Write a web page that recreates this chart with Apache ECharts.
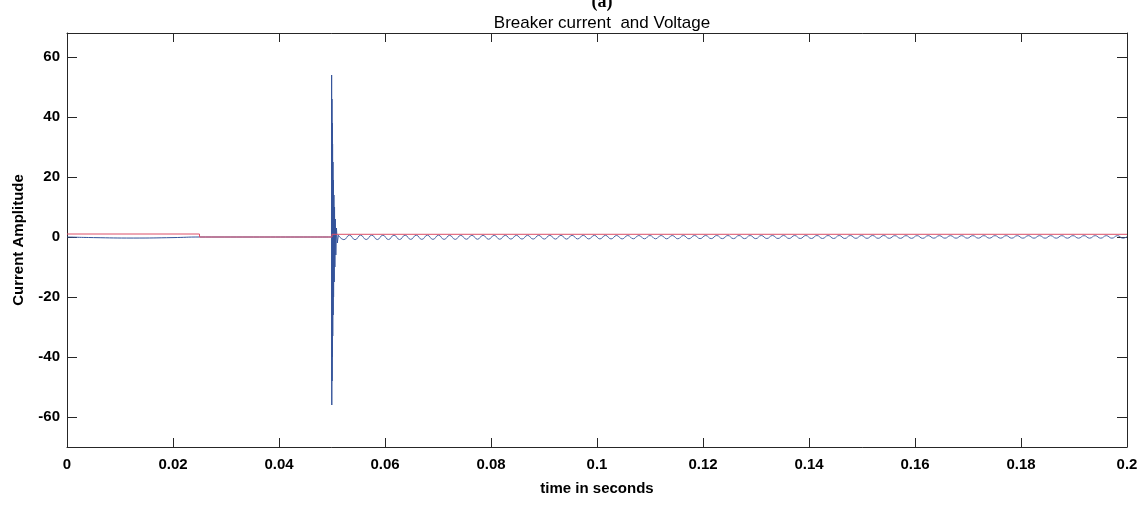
<!DOCTYPE html>
<html>
<head>
<meta charset="utf-8">
<script src="https://cdn.jsdelivr.net/npm/echarts@6/dist/echarts.min.js"></script>
<style>html,body{margin:0;padding:0;background:#fff}#c{width:1147px;height:505px}</style>
</head>
<body>
<div id="c"></div>
<script>
// ---- data ----
const xTicks = [0, 0.02, 0.04, 0.06, 0.08, 0.1, 0.12, 0.14, 0.16, 0.18, 0.2];
const yTicks = [-60, -40, -20, 0, 20, 40, 60];

// breaker state / voltage trace (red)
const redTimes  = [0, 0.025, 0.025, 0.05, 0.05, 0.2];
const redValues = [1, 1, 0, 0, 0.9, 0.9];

// current before the fault (blue)
const preTimes  = [0, 0.005, 0.0125, 0.02, 0.025, 0.0499];
const preValues = [0, -0.2, -0.35, -0.2, 0, 0];

// transient spike at 0.05 s (blue)
const spikeTimes  = [0.04990, 0.04993, 0.04996, 0.04999, 0.05002, 0.05005, 0.05008, 0.05011, 0.05014, 0.05018,
                     0.05022, 0.05026, 0.05030, 0.05036, 0.05042, 0.05048, 0.05054, 0.05062, 0.05072, 0.05084,
                     0.05100, 0.05120];
const spikeValues = [0, 54, -56, 46, -48, 38, -40, 31, -33, 25,
                     -26, 19, -20, 14, -15, 10, -10, 6, -6, 3,
                     -2, 0.6];

// steady oscillation after the fault (blue): peaks and troughs
const waveTimes = [
0.05120,0.05225,0.05330,0.05435,0.05540,0.05645,0.05750,0.05855,0.05960,0.06065,
0.06170,0.06275,0.06380,0.06485,0.06590,0.06695,0.06800,0.06905,0.07010,0.07115,
0.07220,0.07325,0.07430,0.07535,0.07640,0.07745,0.07850,0.07955,0.08060,0.08165,
0.08270,0.08375,0.08480,0.08585,0.08690,0.08795,0.08900,0.09005,0.09110,0.09215,
0.09320,0.09425,0.09530,0.09635,0.09740,0.09845,0.09950,0.10055,0.10160,0.10265,
0.10370,0.10475,0.10580,0.10685,0.10790,0.10895,0.11000,0.11105,0.11210,0.11315,
0.11420,0.11525,0.11630,0.11735,0.11840,0.11945,0.12050,0.12155,0.12260,0.12365,
0.12470,0.12575,0.12680,0.12785,0.12890,0.12995,0.13100,0.13205,0.13310,0.13415,
0.13520,0.13625,0.13730,0.13835,0.13940,0.14045,0.14150,0.14255,0.14360,0.14465,
0.14570,0.14675,0.14780,0.14885,0.14990,0.15095,0.15200,0.15305,0.15410,0.15515,
0.15620,0.15725,0.15830,0.15935,0.16040,0.16145,0.16250,0.16355,0.16460,0.16565,
0.16670,0.16775,0.16880,0.16985,0.17090,0.17195,0.17300,0.17405,0.17510,0.17615,
0.17720,0.17825,0.17930,0.18035,0.18140,0.18245,0.18350,0.18455,0.18560,0.18665,
0.18770,0.18875,0.18980,0.19085,0.19190,0.19295,0.19400,0.19505,0.19610,0.19715,
0.19820,0.19925,0.20000];
const waveValues = [
0.6,-0.9,0.6,-0.9,0.6,-0.85,0.6,-0.85,0.6,-0.85,
0.6,-0.85,0.6,-0.8,0.6,-0.8,0.6,-0.8,0.6,-0.8,
0.55,-0.8,0.55,-0.75,0.55,-0.75,0.55,-0.75,0.55,-0.75,
0.55,-0.7,0.55,-0.7,0.55,-0.7,0.55,-0.7,0.55,-0.7,
0.55,-0.7,0.55,-0.65,0.55,-0.65,0.55,-0.65,0.55,-0.65,
0.5,-0.65,0.5,-0.6,0.5,-0.6,0.5,-0.6,0.5,-0.6,
0.5,-0.6,0.5,-0.6,0.5,-0.55,0.5,-0.55,0.5,-0.55,
0.5,-0.55,0.5,-0.55,0.5,-0.55,0.5,-0.5,0.5,-0.5,
0.5,-0.5,0.5,-0.5,0.5,-0.5,0.5,-0.5,0.5,-0.5,
0.5,-0.5,0.5,-0.45,0.5,-0.45,0.5,-0.45,0.5,-0.45,
0.45,-0.45,0.45,-0.45,0.45,-0.45,0.45,-0.4,0.45,-0.4,
0.45,-0.4,0.45,-0.4,0.45,-0.4,0.45,-0.4,0.45,-0.4,
0.45,-0.4,0.45,-0.4,0.45,-0.4,0.45,-0.4,0.45,-0.4,
0.45,-0.4,0.45,-0.4,0.45,-0.4,0.45,-0.4,0.45,-0.4,
0.45,-0.4,0.1];

const titleText = 'Breaker current  and Voltage';
const panelText = '(a)';
const xName = 'time in seconds';
const yName = 'Current Amplitude';

// ---- chart ----
const zip = (t, v) => t.map((x, i) => [x, v[i]]);
const AX = '#262626';
const BLUE = '#34539a';
const RED = '#dc4f68';
const labelFont = {fontFamily: 'Liberation Sans, Arial, sans-serif', fontWeight: 'bold', fontSize: 15, color: '#000'};

const chart = echarts.init(document.getElementById('c'), null, {renderer: 'canvas'});
const fmtX = v => String(parseFloat(v.toFixed(3)));

chart.setOption({
  animation: false,
  backgroundColor: '#fff',
  title: [
    {text: panelText, left: 597, textAlign: 'center', top: -12,
     textStyle: {fontFamily: 'Liberation Serif, Times New Roman, serif', fontWeight: 'bold', fontSize: 18, color: '#000'}},
    {text: titleText, left: 597, textAlign: 'center', top: 10,
     textStyle: {fontFamily: 'Liberation Sans, Arial, sans-serif', fontWeight: 'normal', fontSize: 17, color: '#000'}}
  ],
  grid: {left: 67, right: 20, top: 33, bottom: 58, containLabel: false},
  xAxis: [
    {type: 'value', min: 0, max: 0.2, interval: 0.02, position: 'bottom',
     name: xName, nameLocation: 'middle', nameGap: 34,
     nameTextStyle: Object.assign({}, labelFont, {fontSize: 15}),
     axisLine: {show: true, onZero: false, lineStyle: {color: AX, width: 1}},
     axisTick: {show: true, inside: true, length: 9, lineStyle: {color: AX}},
     axisLabel: Object.assign({margin: 10, formatter: fmtX}, labelFont),
     splitLine: {show: false}},
    {type: 'value', min: 0, max: 0.2, interval: 0.02, position: 'top',
     axisLine: {show: true, onZero: false, lineStyle: {color: AX, width: 1}},
     axisTick: {show: true, inside: true, length: 9, lineStyle: {color: AX}},
     axisLabel: {show: false}, splitLine: {show: false}}
  ],
  yAxis: [
    {type: 'value', min: -70, max: 68, position: 'left',
     name: yName, nameLocation: 'middle', nameGap: 41,
     nameTextStyle: Object.assign({}, labelFont, {fontSize: 15}),
     axisLine: {show: true, onZero: false, lineStyle: {color: AX, width: 1}},
     axisTick: {show: true, inside: true, length: 10, customValues: yTicks, lineStyle: {color: AX}},
     axisLabel: Object.assign({margin: 7, customValues: yTicks}, labelFont),
     splitLine: {show: false}},
    {type: 'value', min: -70, max: 68, position: 'right',
     axisLine: {show: true, onZero: false, lineStyle: {color: AX, width: 1}},
     axisTick: {show: true, inside: true, length: 10, customValues: yTicks, lineStyle: {color: AX}},
     axisLabel: {show: false}, splitLine: {show: false}}
  ],
  series: [
    {type: 'line', name: 'pre', data: zip(preTimes, preValues), smooth: true, showSymbol: false,
     lineStyle: {color: BLUE, width: 1}, z: 2},
    {type: 'line', name: 'spike', data: zip(spikeTimes, spikeValues), smooth: false, showSymbol: false,
     lineStyle: {color: BLUE, width: 1}, z: 3},
    {type: 'line', name: 'wave', data: zip(waveTimes, waveValues), smooth: true, showSymbol: false,
     lineStyle: {color: '#4f68a6', width: 1}, z: 2},
    {type: 'line', name: 'voltage', data: zip(redTimes, redValues), smooth: false, showSymbol: false,
     lineStyle: {color: RED, width: 1}, z: 4}
  ]
});
</script>
</body>
</html>
